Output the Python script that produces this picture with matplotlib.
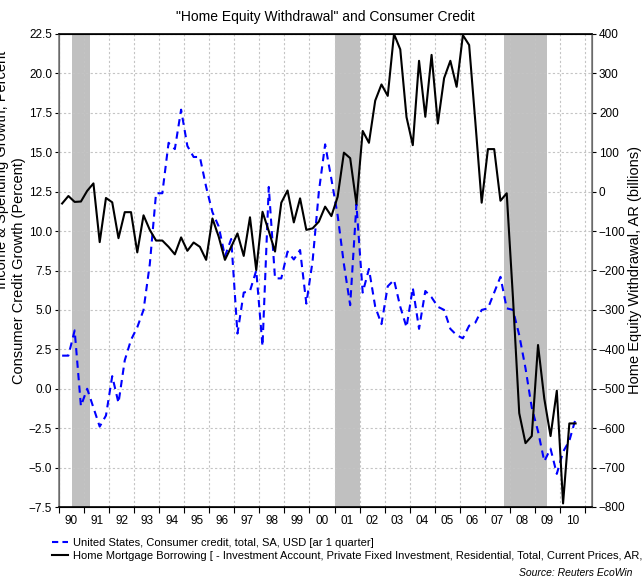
import numpy as np
import matplotlib.pyplot as plt
from matplotlib.lines import Line2D

plt.rcParams['font.family'] = ['Liberation Sans', 'DejaVu Sans']

# quarterly data, 1990Q1 .. 2010Q3
start_year = 1990
credit_growth = [
    2.1, 2.1, 3.7, -1.1, 0.0, -1.2, -2.4, -1.7, 0.8, -0.9, 1.8, 3.1,
    3.9, 5.0, 7.9, 12.4, 12.4, 15.6, 15.2, 17.7, 15.4, 14.7, 14.7, 12.8,
    11.2, 10.3, 8.4, 9.5, 3.5, 6.1, 6.2, 7.5, 2.7, 12.8, 7.0, 7.0,
    8.7, 8.2, 8.8, 5.4, 8.1, 12.5, 15.5, 13.3, 11.0, 7.9, 5.3, 11.7,
    6.1, 7.6, 5.2, 4.1, 6.5, 6.9, 5.2, 3.9, 6.4, 3.8, 6.2, 5.8,
    5.2, 5.0, 3.8, 3.4, 3.2, 4.0, 4.2, 5.0, 5.1, 6.1, 7.1, 5.1,
    5.0, 3.4, 1.3, -1.2, -2.7, -4.6, -3.8, -5.4, -4.0, -3.3, -1.9,
]
equity_withdrawal = [
    -30, -11, -26, -25, 2, 21, -128, -16, -27, -118, -52, -52,
    -154, -60, -97, -124, -124, -140, -159, -116, -150, -129, -140, -173,
    -68, -114, -173, -140, -106, -163, -65, -199, -51, -100, -152, -28,
    3, -78, -17, -97, -93, -76, -38, -62, -13, 99, 85, -31,
    154, 124, 231, 272, 243, 400, 361, 189, 118, 332, 190, 347,
    173, 288, 332, 266, 397, 372, 175, -28, 108, 108, -23, -4,
    -270, -562, -638, -620, -389, -525, -620, -505, -791, -588, -588,
]
recessions = [(1990.5, 1991.25), (2001.0, 2002.0), (2007.75, 2009.5)]
year_labels = ['90', '91', '92', '93', '94', '95', '96', '97', '98', '99', '00',
               '01', '02', '03', '04', '05', '06', '07', '08', '09', '10']

x = start_year + (np.arange(len(credit_growth)) + 0.5) / 4

fig = plt.figure(figsize=(6.43, 5.79), dpi=100)
ax = fig.add_axes([59 / 643, 1 - 507 / 579, 533 / 643, 473 / 579])
ax2 = ax.twinx()

for a, b in recessions:
    ax.axvspan(a, b, color='#c0c0c0', lw=0, zorder=0)

ax.plot(x, credit_growth, color='#0000ff', lw=1.5, ls=(0, (3.5, 2.5)), zorder=3)
ax2.plot(x, equity_withdrawal, color='black', lw=1.5, zorder=3)

ax.set_xlim(1990, 2011.28)
ax.set_ylim(-7.5, 22.5)
ax2.set_ylim(-800, 400)
ax.set_yticks(np.arange(-7.5, 22.6, 2.5))
ax2.set_yticks(np.arange(-800, 401, 100))

years = np.arange(1990, 2012)
ax.set_xticks(years)
ax.set_xticklabels([])
ax.set_xticks(np.arange(1990, 2011) + 0.5, minor=True)
ax.set_xticklabels(year_labels, minor=True)
ax.tick_params(axis='x', which='major', length=4, direction='out')
ax.tick_params(axis='x', which='minor', length=0, pad=6, labelsize=8.5)
ax.tick_params(axis='y', length=3, labelsize=8.5, pad=2)
ax2.tick_params(axis='y', length=3, labelsize=8.5, pad=2)

ax.grid(True, color='#c4c4c4', ls=(0, (2, 2)), lw=0.8)
ax.set_axisbelow(True)
ax.set_zorder(ax2.get_zorder() - 1)
ax2.patch.set_visible(False)
ax.patch.set_visible(True)

for s in ['left', 'right']:
    ax2.spines[s].set_color('#808080')
    ax2.spines[s].set_linewidth(1.2)
ax2.spines['top'].set_linewidth(1.2)
ax2.spines['bottom'].set_linewidth(1.2)

ax.set_ylabel('Consumer Credit Growth (Percent)', fontsize=10.5, labelpad=2)
ax2.set_ylabel('Home Equity Withdrawal, AR (billions)', fontsize=10.5, labelpad=2)

fig.text(0.506, 1 - 17 / 579, '"Home Equity Withdrawal" and Consumer Credit',
         ha='center', va='center', fontsize=10)
fig.text(-0.008, 1 - 170 / 579, 'Income & Spending Growth, Percent', rotation=90,
         ha='left', va='center', fontsize=10.5)

handles = [Line2D([], [], color='#0000ff', lw=1.5, ls=(0, (3, 2))),
           Line2D([], [], color='black', lw=1.5)]
labels = ['United States, Consumer credit, total, SA, USD [ar 1 quarter]',
          'Home Mortgage Borrowing [ - Investment Account, Private Fixed Investment, '
          'Residential, Total, Current Prices, AR, SA]']
fig.legend(handles, labels, loc='upper left', bbox_to_anchor=(52 / 643, 1 - 538 / 579),
           frameon=False, fontsize=8, handlelength=1.4, handletextpad=0.5,
           labelspacing=0.25, borderaxespad=0, borderpad=0)
fig.text(632 / 643, 1 - 573 / 579, 'Source: Reuters EcoWin', ha='right', va='center',
         fontsize=7.5, style='italic')

fig.savefig('out.png', dpi=100)
